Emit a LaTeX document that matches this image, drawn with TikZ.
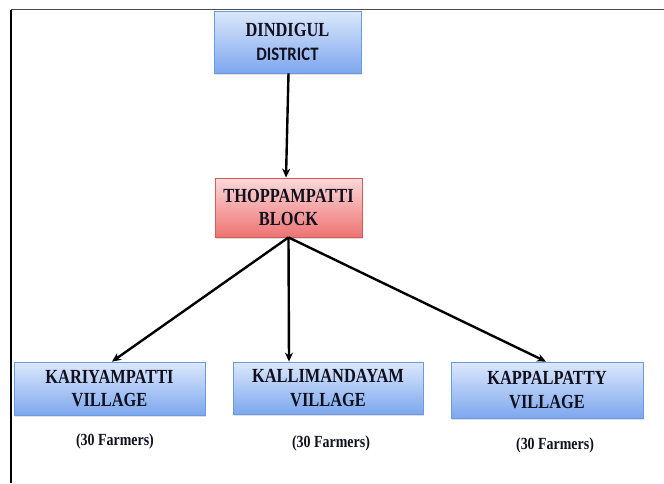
\documentclass[tikz,border=0pt]{standalone}
\usepackage{fontspec}
\setmainfont{Liberation Serif}
\newfontfamily\condserif[FakeStretch=0.82]{Liberation Serif}
\newfontfamily\calfont[FakeStretch=0.88]{Carlito}
\usetikzlibrary{arrows.meta,shadows}

\definecolor{bluetop}{HTML}{DCE8FC}
\definecolor{bluebot}{HTML}{7DA7EE}
\definecolor{blueedge}{HTML}{6C9AE0}
\definecolor{redtop}{HTML}{FCD9D9}
\definecolor{redbot}{HTML}{EE7373}
\definecolor{rededge}{HTML}{D65A5A}
\definecolor{inkdark}{HTML}{10101E}

\begin{document}
\begin{tikzpicture}[x=1pt,y=-1pt,
	bluebox/.style={draw=blueedge, line width=0.8pt, top color=bluetop, bottom color=bluebot,
		align=center, inner sep=0pt, text=inkdark, font=\condserif\bfseries\fontsize{20}{23.5}\selectfont,
		drop shadow={opacity=0.25, shadow xshift=1pt, shadow yshift=-1.5pt}},
	redbox/.style={bluebox, draw=rededge, top color=redtop, bottom color=redbot},
	farmers/.style={text=inkdark, font=\condserif\bfseries\fontsize{17}{20}\selectfont},
	arr/.style={-{Stealth[length=9pt, width=8pt]}, line width=2.4pt}]
	\useasboundingbox (0,0) rectangle (664,483);
	
	% frame
	\draw[gray!60!black, line width=1.6pt] (11,9.5) -- (664,9.5);
	\draw[black, line width=1.2pt] (11,9.5) -- (11,483);
	
	\node[bluebox, minimum width=147, minimum height=62] (dist) at (287.5, 42) {DINDIGUL\\{\calfont\bfseries\fontsize{19}{23.5}\selectfont DISTRICT}};
	\node[redbox,  minimum width=147, minimum height=59] (block) at (288.5, 207.5) {THOPPAMPATTI\\BLOCK};
	\node[bluebox, minimum width=191, minimum height=53] (v1) at (109.5, 388.5) {KARIYAMPATTI\\VILLAGE};
	\node[bluebox, minimum width=190, minimum height=52] (v2) at (328, 388) {KALLIMANDAYAM\\VILLAGE};
	\node[bluebox, minimum width=192, minimum height=56] (v3) at (547, 390) {KAPPALPATTY\\VILLAGE};
	
	\node[farmers] (f1) at (115, 441) {(30 Farmers)};
	\node[farmers] (f2) at (331, 443) {(30 Farmers)};
	\node[farmers] (f3) at (555, 445) {(30 Farmers)};
	
	\path (dist.south) ++(1,0) coordinate (ds);
	\draw[arr] (ds) -- (block.north -| 286,0);
	\draw[arr] (block.south) -- (v1.north -| 112,0);
	\draw[arr] (block.south) -- (v2.north -| 289,0);
	\draw[arr] (block.south) -- (v3.north -| 546,0);
	
\end{tikzpicture}
\end{document}
